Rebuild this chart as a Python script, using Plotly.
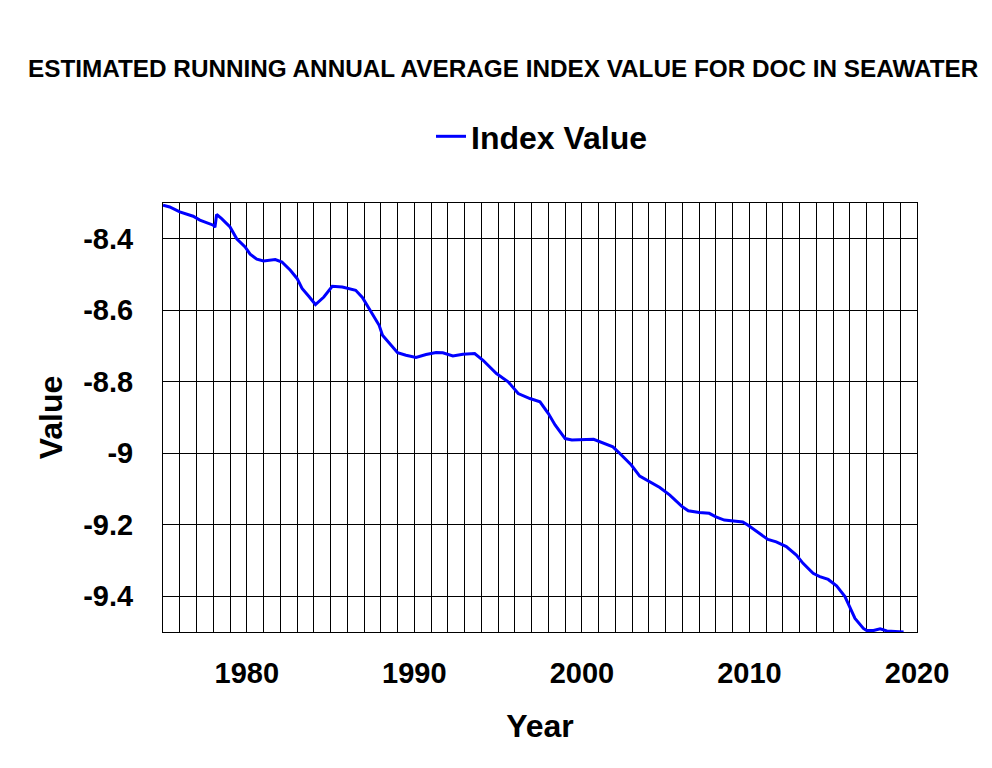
import plotly.graph_objects as go

# ---- data ----
years = [1975.0, 1975.4, 1976.0, 1976.8, 1977.2, 1978.0, 1978.1, 1978.2, 1978.5, 1979.0,
         1979.4, 1979.9, 1980.2, 1980.6, 1981.0, 1981.7, 1982.1, 1982.6, 1983.0, 1983.3,
         1983.7, 1984.1, 1984.6, 1985.1, 1985.7, 1986.2, 1986.5, 1986.9, 1987.4, 1987.9,
         1988.1, 1988.5, 1989.0, 1989.5, 1990.1, 1990.7, 1991.3, 1991.7, 1992.3, 1992.9,
         1993.6, 1994.1, 1994.9, 1995.6, 1996.2, 1996.9, 1997.5, 1998.0, 1998.4, 1999.0,
         1999.4, 2000.7, 2001.1, 2001.85, 2002.25, 2002.95, 2003.45, 2004.15, 2004.65, 2005.25,
         2005.95, 2006.35, 2007.0, 2007.6, 2008.0, 2008.5, 2009.0, 2009.6, 2009.9, 2010.6,
         2011.1, 2011.6, 2012.2, 2012.8, 2013.2, 2013.8, 2014.2, 2014.7, 2015.2, 2015.7,
         2016.0, 2016.3, 2016.8, 2017.0, 2017.4, 2017.8, 2018.2, 2019.2]
index_values = [-8.306, -8.311, -8.325, -8.337, -8.348, -8.362, -8.368, -8.332, -8.344, -8.367,
                -8.400, -8.423, -8.443, -8.457, -8.462, -8.458, -8.465, -8.488, -8.511, -8.539,
                -8.561, -8.584, -8.563, -8.533, -8.535, -8.542, -8.544, -8.564, -8.605, -8.642,
                -8.670, -8.693, -8.719, -8.726, -8.732, -8.724, -8.718, -8.719, -8.728, -8.723,
                -8.721, -8.740, -8.777, -8.800, -8.833, -8.847, -8.856, -8.889, -8.921, -8.959,
                -8.963, -8.961, -8.968, -8.982, -9.000, -9.033, -9.064, -9.084, -9.096, -9.117,
                -9.148, -9.161, -9.166, -9.168, -9.178, -9.187, -9.190, -9.192, -9.201, -9.224,
                -9.241, -9.248, -9.261, -9.285, -9.308, -9.336, -9.345, -9.353, -9.371, -9.401,
                -9.434, -9.462, -9.490, -9.496, -9.496, -9.491, -9.497, -9.500]

x_tickvals = [1980, 1990, 2000, 2010, 2020]
x_ticktext = ["1980", "1990", "2000", "2010", "2020"]
y_tickvals = [-8.4, -8.6, -8.8, -9.0, -9.2, -9.4]
y_ticktext = ["-8.4", "-8.6", "-8.8", "-9", "-9.2", "-9.4"]

FONT = "Liberation Sans, Arial, sans-serif"
TICKFONT = dict(size=29, family=FONT, color="black", weight="bold")
TITLEFONT = dict(size=32, family=FONT, color="black", weight="bold")

fig = go.Figure()
fig.add_trace(go.Scatter(x=years, y=index_values, mode="lines", name="Index Value",
                         line=dict(color="#0000FF", width=3)))

fig.update_layout(
    width=992, height=768,
    paper_bgcolor="white", plot_bgcolor="white",
    margin=dict(l=155, r=83, t=195, b=144, autoexpand=False),
    font=dict(family=FONT, color="black"),
    title=dict(text="ESTIMATED RUNNING ANNUAL AVERAGE INDEX VALUE FOR DOC IN SEAWATER",
               font=dict(size=24.3, family=FONT, color="black", weight="bold"),
               xref="container", yref="container", x=20/992, xanchor="left",
               y=1-60/768, yanchor="middle"),
    showlegend=True,
    legend=dict(orientation="h", x=0.5 + 2/754, xanchor="center", y=1.155, yanchor="middle",
                font=dict(size=32, family=FONT, color="black", weight="bold"),
                itemwidth=30, bgcolor="rgba(0,0,0,0)"),
)

fig.update_xaxes(
    range=[1975, 2020], tickmode="array", tickvals=x_tickvals, ticktext=x_ticktext,
    tickfont=TICKFONT, ticks="", ticklabelstandoff=15,
    showgrid=True, gridcolor="black", gridwidth=1,
    minor=dict(tickmode="linear", tick0=1975, dtick=1, showgrid=True, gridcolor="black", gridwidth=1),
    showline=True, linecolor="black", linewidth=1, mirror=True, zeroline=False,
    title=dict(text="Year", font=TITLEFONT, standoff=26),
)
fig.update_yaxes(
    range=[-9.5, -8.3], tickmode="array", tickvals=y_tickvals, ticktext=y_ticktext,
    tickfont=TICKFONT, ticks="", ticklabelstandoff=23,
    showgrid=True, gridcolor="black", gridwidth=1,
    showline=True, linecolor="black", linewidth=1, mirror=True, zeroline=False,
    title=dict(text="Value", font=TITLEFONT, standoff=11),
)

fig.write_html("out.html")
